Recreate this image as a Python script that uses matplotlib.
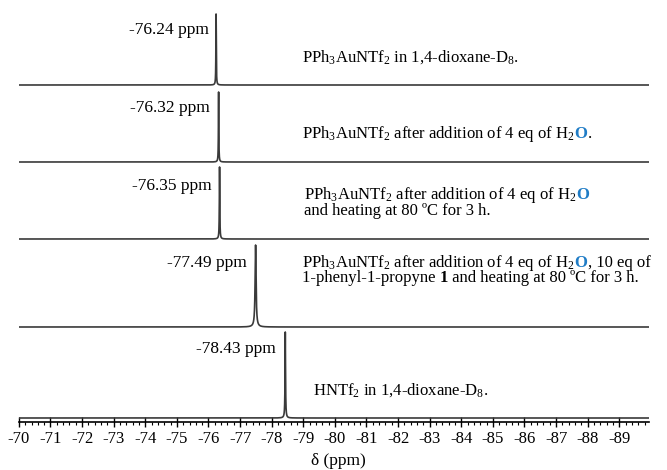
import numpy as np
import matplotlib
matplotlib.use('Agg')
import matplotlib.pyplot as plt
from matplotlib.ticker import MultipleLocator

plt.rcParams['font.family'] = ['Liberation Serif', 'DejaVu Serif']
plt.rcParams['mathtext.fontset'] = 'custom'
plt.rcParams['mathtext.rm'] = 'Liberation Serif'
plt.rcParams['mathtext.bf'] = 'Liberation Serif:bold'
plt.rcParams['mathtext.default'] = 'regular'

#-------------------------------------------------------------------------------
#DATA

#peak shifts (ppm), peak heights and half widths of the five 19F spectra, top to bottom
shifts = [-76.24, -76.32, -76.35, -77.49, -78.43]
heights = [71, 70, 72, 82, 86]
widths = [0.007, 0.007, 0.008, 0.018, 0.009]
shift_labels = ['-76.24 ppm', '-76.32 ppm', '-76.35 ppm', '-77.49 ppm', '-78.43 ppm']

#spectral window
ppm_start, ppm_end = -70.0, -89.94

#axis ticks
tick_ppm = list(range(-70, -90, -1))
tick_labels = [str(t) for t in tick_ppm]

#sample descriptions: lines made of (text, colour, weight) pieces
blue = '#1f7cc6'
descriptions = [
    [[('PPh$_3$AuNTf$_2$ in 1,4-dioxane-D$_8$.', 'k', 'normal')]],
    [[('PPh$_3$AuNTf$_2$ after addition of 4 eq of H$_2$', 'k', 'normal'),
      ('O', blue, 'bold'), ('.', 'k', 'normal')]],
    [[('PPh$_3$AuNTf$_2$ after addition of 4 eq of H$_2$', 'k', 'normal'),
      ('O', blue, 'bold')],
     [('and heating at 80 ºC for 3 h.', 'k', 'normal')]],
    [[('PPh$_3$AuNTf$_2$ after addition of 4 eq of H$_2$', 'k', 'normal'),
      ('O', blue, 'bold'), (', 10 eq of', 'k', 'normal')],
     [('1-phenyl-1-propyne ', 'k', 'normal'), ('1', 'k', 'bold'),
      (' and heating at 80 ºC for 3 h.', 'k', 'normal')]],
    [[('HNTf$_2$ in 1,4-dioxane-D$_8$.', 'k', 'normal')]],
]

#-------------------------------------------------------------------------------
#LAYOUT (pixels from the top left corner of the figure)

W, H = 667, 470
axis_px = 422
base_px = [85, 162, 239, 327, 418]
label_px = [(209, 34), (210, 112), (212, 190), (247, 267), (276, 353)]
desc_px = [(302, [61.5]), (302, [137.5]), (304, [199, 215]),
           (302, [267, 282.5]), (313, [395])]
fs_tick = 12
fs_lab = 12.5
fs_desc = 12

def fpos(x, y):
    return x / W, 1 - y / H

#-------------------------------------------------------------------------------
#MAIN

fig = plt.figure(figsize=(W / 100, H / 100), dpi=100)
left = 18.9
right = 649
ax = fig.add_axes([left / W, 1 - axis_px / H, (right - left) / W, axis_px / H])

x = np.linspace(ppm_start, ppm_end, 40000)
for s, h, w, b in zip(shifts, heights, widths, base_px):
    off = axis_px - b
    y = off + h * w**2 / ((x - s)**2 + w**2)
    ax.plot(x, y, color='#3a3a3a', lw=1.2, solid_joinstyle='round')

ax.set_xlim(ppm_start, ppm_end)
ax.set_ylim(0, axis_px)
for sp in ['left', 'right', 'top']:
    ax.spines[sp].set_visible(False)
ax.spines['bottom'].set_linewidth(1.2)
ax.set_yticks([])
ax.set_xticks(tick_ppm)
ax.set_xticklabels(tick_labels, fontsize=fs_tick)
ax.xaxis.set_minor_locator(MultipleLocator(0.2))
ax.tick_params(axis='x', which='major', direction='inout', length=7, width=1, pad=3)
ax.tick_params(axis='x', which='minor', direction='out', length=2.5, width=0.8)

#axis title
fx, fy = fpos(338, 461)
fig.text(fx, fy, 'δ (ppm)', fontsize=fs_lab, ha='center', va='center')

#peak labels
for (px, py), lab in zip(label_px, shift_labels):
    fx, fy = fpos(px, py)
    fig.text(fx, fy, lab, fontsize=fs_lab, ha='right', va='baseline')

#sample descriptions, pieces chained along one baseline
for (px, ys), lines in zip(desc_px, descriptions):
    for py, pieces in zip(ys, lines):
        fx, fy = fpos(px, py)
        s, c, w = pieces[0]
        t = fig.text(fx, fy, s, color=c, fontweight=w, fontsize=fs_desc,
                     ha='left', va='baseline')
        for s, c, w in pieces[1:]:
            t = ax.annotate(s, xy=(1, fy), xycoords=(t, 'figure fraction'),
                            color=c, fontweight=w, fontsize=fs_desc,
                            ha='left', va='baseline', annotation_clip=False)

fig.savefig('out.png', dpi=100)
